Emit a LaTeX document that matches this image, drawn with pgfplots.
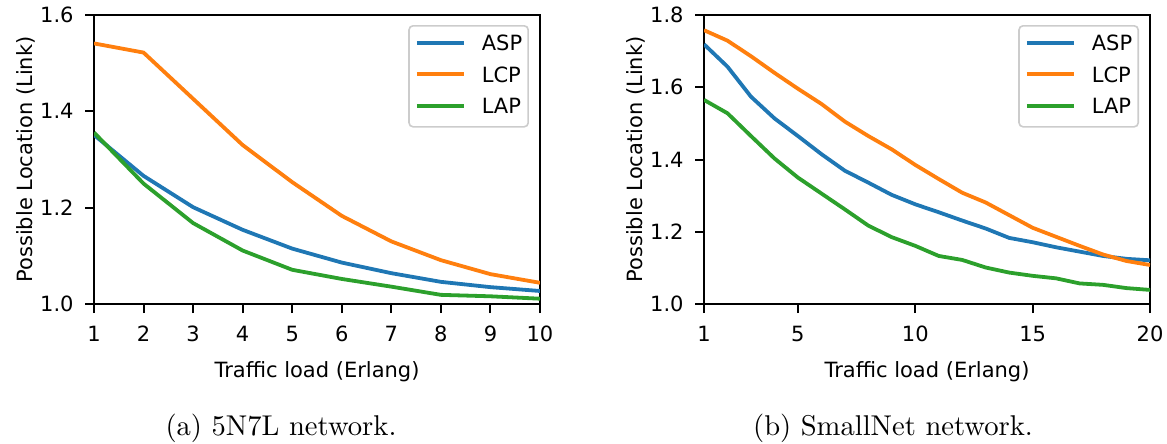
\documentclass[border=0pt]{standalone}
\usepackage{pgfplots}
\pgfplotsset{compat=1.18}
\usepackage{pgfplotstable}
\usepackage{fontspec}
\usepackage{graphicx}
\newfontfamily\djv{DejaVu Sans}
\definecolor{tabblue}{HTML}{1F77B4}
\definecolor{taborange}{HTML}{FF7F0E}
\definecolor{tabgreen}{HTML}{2CA02C}

% 5N7L network
\pgfplotstableread{
x   asp    lcp    lap
1   1.351  1.541  1.356
2   1.266  1.522  1.250
3   1.201  1.426  1.168
4   1.154  1.330  1.111
5   1.115  1.253  1.071
6   1.086  1.183  1.052
7   1.064  1.130  1.036
8   1.046  1.091  1.019
9   1.035  1.062  1.016
10  1.027  1.044  1.011
}\fivenet

% SmallNet network
\pgfplotstableread{
x   asp    lcp    lap
1   1.719  1.758  1.565
2   1.657  1.729  1.528
3   1.574  1.686  1.465
4   1.514  1.640  1.403
5   1.465  1.596  1.350
6   1.415  1.554  1.306
7   1.369  1.505  1.262
8   1.336  1.465  1.217
9   1.302  1.428  1.185
10  1.276  1.385  1.161
11  1.254  1.346  1.133
12  1.231  1.308  1.122
13  1.209  1.281  1.101
14  1.183  1.246  1.087
15  1.171  1.211  1.078
16  1.157  1.186  1.071
17  1.145  1.161  1.057
18  1.133  1.137  1.053
19  1.125  1.119  1.044
20  1.121  1.108  1.039
}\smallnet

\pgfplotsset{
  mpl/.style={
    scale only axis,
    width=223pt, height=144.5pt,
    axis line style={line width=1pt},
    tick align=outside,
    tick pos=left,
    major tick length=4.5pt,
    tick style={black, line width=1pt},
    /pgf/number format/assume math mode=true,
    xticklabel style={font=\fontsize{10.5}{12.6}\djv, anchor=north, inner sep=0pt,
      text height=7.65pt, text depth=0pt, yshift=-6.5pt},
    yticklabel style={font=\fontsize{10.5}{12.6}\djv, anchor=east, inner sep=0pt,
      text height=7.65pt, text depth=0pt, xshift=-5.5pt,
      /pgf/number format/.cd, fixed, fixed zerofill, precision=1},
    xlabel={Traffic load (Erlang)},
    ylabel={Possible Location (Link)},
    every axis x label/.style={at={(axis description cs:0.5,0)}, yshift=-34pt,
      anchor=center, font=\fontsize{10.5}{12.6}\djv},
    every axis y label/.style={at={(axis description cs:0,0.5)}, xshift=-34pt,
      rotate=90, anchor=center, font=\fontsize{10.5}{12.6}\djv},
    legend style={at={(1,1)}, xshift=-5.5pt, yshift=-5pt, anchor=north east,
      draw=black!20, line width=0.8pt, rounded corners=2pt, fill=white,
      fill opacity=0.8, text opacity=1, draw opacity=1,
      inner xsep=3pt, inner ysep=4.5pt, row sep=6.05pt,
      font=\fontsize{10.5}{12.6}\djv,
      nodes={inner xsep=0pt, inner ysep=0pt, text height=7.8pt, text depth=2pt},
      /tikz/every odd column/.append style={column sep=8pt}},
    legend cell align=left,
    legend image code/.code={\draw[#1] (0pt,1pt) -- (23.5pt,1pt);},
    every axis plot/.append style={line width=1.9pt},
  }
}

\begin{document}
\begin{tikzpicture}
\useasboundingbox (0,0) rectangle (583.5pt,-222pt);

\begin{axis}[mpl, at={(47pt,-152pt)}, anchor=south west,
  xmin=1, xmax=10, ymin=1.0, ymax=1.6,
  xtick={1,2,...,10}, ytick={1.0,1.2,1.4,1.6}]
  \addplot[tabblue] table[x=x, y=asp] {\fivenet};
  \addplot[taborange] table[x=x, y=lcp] {\fivenet};
  \addplot[tabgreen] table[x=x, y=lap] {\fivenet};
  \legend{ASP, LCP, LAP}
\end{axis}

\begin{axis}[mpl, at={(352pt,-152pt)}, anchor=south west,
  xmin=1, xmax=20, ymin=1.0, ymax=1.8,
  xtick={1,5,10,15,20}, ytick={1.0,1.2,1.4,1.6,1.8}]
  \addplot[tabblue] table[x=x, y=asp] {\smallnet};
  \addplot[taborange] table[x=x, y=lcp] {\smallnet};
  \addplot[tabgreen] table[x=x, y=lap] {\smallnet};
  \legend{ASP, LCP, LAP}
\end{axis}

\node[anchor=base] at (140.5pt,-217.75pt) {\scalebox{1.43}{\fontsize{10}{12}\selectfont (a) 5N7L network.}};
\node[anchor=base] at (446.5pt,-217.75pt) {\scalebox{1.43}{\fontsize{10}{12}\selectfont (b) SmallNet network.}};
\end{tikzpicture}
\end{document}
